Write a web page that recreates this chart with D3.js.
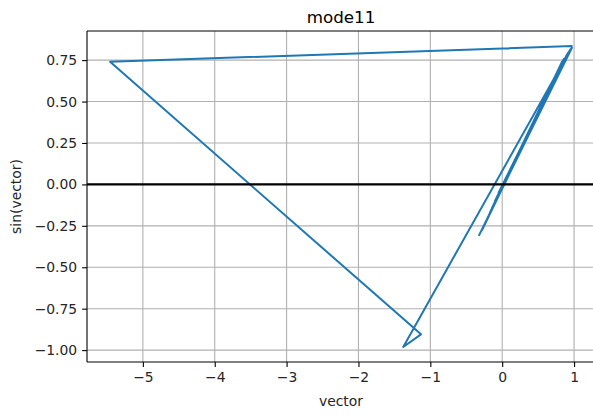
<!DOCTYPE html>
<html>
<head>
<meta charset="utf-8">
<script src="https://cdn.jsdelivr.net/npm/d3@7"></script>
<style>
  body { margin: 0; background: #fff; }
  svg { display: block; font-family: "DejaVu Sans", sans-serif; }
</style>
</head>
<body>
<svg id="chart" width="593" height="416"></svg>
<script>
// values, in drawing order
const vec = [0.965, -5.456, -1.13, -1.377, 0.95, -0.25, 0.92, -0.17, 0.96, -0.10, 0.86, -0.28,
             0.90, -0.05, 0.97, -0.22, 0.83, -0.14, 0.94, -0.32];
const sinVec = [0.835, 0.74, -0.905, -0.981, 0.815, -0.247, 0.796, -0.169, 0.82, -0.10, 0.758, -0.276,
                0.783, -0.05, 0.825, -0.218, 0.738, -0.14, 0.808, -0.305];
const xTicks = [-5, -4, -3, -2, -1, 0, 1];
const yTicks = [-1.0, -0.75, -0.5, -0.25, 0.0, 0.25, 0.5, 0.75];

const svg = d3.select("#chart");
const axL = 87, axR = 595, axT = 31, axB = 362;
const tickLen = 4.9, tickPad = 4.9;

// matplotlib style 5% margins
const xe = d3.extent(vec), ye = d3.extent(sinVec);
const xm = (xe[1] - xe[0]) * 0.05, ym = (ye[1] - ye[0]) * 0.05;
const x = d3.scaleLinear().domain([xe[0] - xm, xe[1] + xm]).range([axL, axR]);
const y = d3.scaleLinear().domain([ye[0] - ym, ye[1] + ym]).range([axB, axT]);

// grid
const grid = svg.append("g").attr("stroke", "#b0b0b0").attr("stroke-width", 1.1);
grid.selectAll(".gx").data(xTicks).enter().append("line")
    .attr("x1", d => x(d)).attr("x2", d => x(d))
    .attr("y1", axT).attr("y2", axB);
grid.selectAll(".gy").data(yTicks).enter().append("line")
    .attr("x1", axL).attr("x2", axR)
    .attr("y1", d => y(d)).attr("y2", d => y(d));

// data line
const pts = vec.map((v, i) => [v, sinVec[i]]);
svg.append("path")
    .datum(pts)
    .attr("fill", "none")
    .attr("stroke", "#1f77b4")
    .attr("stroke-width", 2)
    .attr("stroke-linejoin", "round")
    .attr("stroke-linecap", "square")
    .attr("d", d3.line().x(d => x(d[0])).y(d => y(d[1])));

// y = 0 line
svg.append("line")
    .attr("x1", axL).attr("x2", axR)
    .attr("y1", y(0)).attr("y2", y(0))
    .attr("stroke", "#000").attr("stroke-width", 2.1);

// axes
const xAxis = svg.append("g")
    .attr("transform", `translate(0,${axB})`)
    .call(d3.axisBottom(x).tickValues(xTicks).tickFormat(d3.format("d"))
        .tickSize(tickLen).tickPadding(tickPad).tickSizeOuter(0));
const yAxis = svg.append("g")
    .attr("transform", `translate(${axL},0)`)
    .call(d3.axisLeft(y).tickValues(yTicks).tickFormat(d3.format(".2f"))
        .tickSize(tickLen).tickPadding(tickPad).tickSizeOuter(0));

[xAxis, yAxis].forEach(a => {
    a.select(".domain").remove();
    a.selectAll(".tick line").attr("stroke", "#000").attr("stroke-width", 1.1);
    a.selectAll(".tick text")
        .attr("fill", "#262626")
        .style("font-size", "13.9px")
        .style("font-family", "DejaVu Sans");
});

// spines
const spines = svg.append("g").attr("stroke", "#000").attr("stroke-width", 1.1).attr("fill", "none");
spines.append("line").attr("x1", axL).attr("x2", axL).attr("y1", axT).attr("y2", axB);
spines.append("line").attr("x1", axL).attr("x2", axR).attr("y1", axB).attr("y2", axB);
spines.append("line").attr("x1", axL).attr("x2", axR).attr("y1", axT).attr("y2", axT);
spines.append("line").attr("x1", axR).attr("x2", axR).attr("y1", axT).attr("y2", axB);

// labels
svg.append("text")
    .attr("x", (axL + axR) / 2).attr("y", 23)
    .attr("text-anchor", "middle")
    .attr("fill", "#000")
    .style("font-size", "16.7px")
    .text("mode11");

svg.append("text")
    .attr("x", (axL + axR) / 2).attr("y", 406)
    .attr("text-anchor", "middle")
    .attr("fill", "#262626")
    .style("font-size", "13.9px")
    .text("vector");

svg.append("text")
    .attr("transform", `translate(21,${(axT + axB) / 2}) rotate(-90)`)
    .attr("text-anchor", "middle")
    .attr("fill", "#262626")
    .style("font-size", "13.9px")
    .text("sin(vector)");
</script>
</body>
</html>
